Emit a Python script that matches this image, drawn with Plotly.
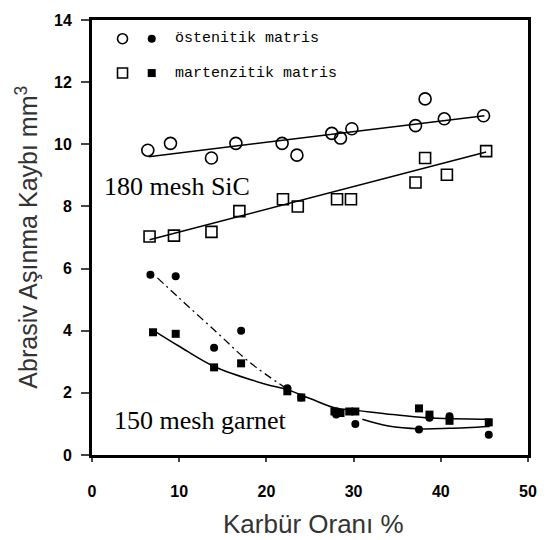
import plotly.graph_objects as go

# --- data ---
aus_sic_x = [6.4, 9.0, 13.7, 16.5, 21.8, 23.5, 27.5, 28.5, 29.8, 37.1, 38.2, 40.4, 44.9]
aus_sic_y = [9.81, 10.03, 9.56, 10.03, 10.03, 9.65, 10.35, 10.2, 10.5, 10.6, 11.46, 10.82, 10.92]

mar_sic_x = [6.6, 9.4, 13.7, 16.9, 21.9, 23.6, 28.1, 29.7, 37.1, 38.2, 40.7, 45.2]
mar_sic_y = [7.03, 7.06, 7.18, 7.85, 8.23, 8.0, 8.23, 8.23, 8.77, 9.56, 9.02, 9.78]

aus_gar_x = [6.7, 9.6, 14.0, 17.1, 22.4, 24.0, 28.0, 30.2, 37.5, 38.7, 41.0, 45.5]
aus_gar_y = [5.8, 5.75, 3.45, 4.0, 2.15, 1.85, 1.3, 1.0, 0.82, 1.2, 1.25, 0.65]

mar_gar_x = [7.0, 9.6, 14.0, 17.1, 22.4, 24.0, 27.8, 28.5, 29.5, 30.2, 37.5, 38.7, 41.0, 45.5]
mar_gar_y = [3.95, 3.9, 2.82, 2.95, 2.05, 1.85, 1.4, 1.35, 1.4, 1.4, 1.5, 1.3, 1.1, 1.05]

# trend lines
aus_sic_fit_x = [6.5, 45.0]
aus_sic_fit_y = [9.6, 10.92]
mar_sic_fit_x = [6.6, 45.2]
mar_sic_fit_y = [6.93, 9.75]

aus_gar_fit1_x = [7.5, 10.0, 14.3, 18.0, 22.4]
aus_gar_fit1_y = [5.7, 5.05, 3.95, 3.0, 2.12]
aus_gar_fit2_x = [31.0, 34.0, 37.6, 41.0, 45.6]
aus_gar_fit2_y = [1.15, 0.93, 0.84, 0.86, 0.92]

mar_gar_fit_x = [7.4, 10.0, 14.0, 19.9, 22.2, 25.0, 27.8, 30.8, 34.5, 38.3, 45.8]
mar_gar_fit_y = [3.95, 3.5, 2.85, 2.28, 2.12, 1.82, 1.52, 1.42, 1.3, 1.2, 1.15]

x_ticks = [0, 10, 20, 30, 40, 50]
y_ticks = [0, 2, 4, 6, 8, 10, 12, 14]

fig = go.Figure()

line_style = dict(color="black", width=1.5)
for fx, fy in [(aus_sic_fit_x, aus_sic_fit_y), (mar_sic_fit_x, mar_sic_fit_y),
               (aus_gar_fit2_x, aus_gar_fit2_y), (mar_gar_fit_x, mar_gar_fit_y)]:
    fig.add_trace(go.Scatter(x=fx, y=fy, mode="lines", line_shape="spline",
                             line=line_style, showlegend=False, hoverinfo="skip"))
fig.add_trace(go.Scatter(x=aus_gar_fit1_x, y=aus_gar_fit1_y, mode="lines", line_shape="spline",
                         line=dict(color="black", width=1.3, dash="8px,4px,2px,4px"),
                         showlegend=False, hoverinfo="skip"))

fig.add_trace(go.Scatter(x=aus_sic_x, y=aus_sic_y, mode="markers", showlegend=False,
                         marker=dict(symbol="circle-open", size=12, color="black", line=dict(width=1.6))))
fig.add_trace(go.Scatter(x=mar_sic_x, y=mar_sic_y, mode="markers", showlegend=False,
                         marker=dict(symbol="square-open", size=11, color="black", line=dict(width=1.6))))
fig.add_trace(go.Scatter(x=aus_gar_x, y=aus_gar_y, mode="markers", showlegend=False,
                         marker=dict(symbol="circle", size=8, color="black")))
fig.add_trace(go.Scatter(x=mar_gar_x, y=mar_gar_y, mode="markers", showlegend=False,
                         marker=dict(symbol="square", size=8, color="black")))

# legend built in paper coordinates (inside the frame, top-left)
legend_rows = [("circle-open", "circle", "östenitik matris", 0.957),
               ("square-open", "square", "martenzitik matris", 0.878)]
for s_open, s_fill, label, yy in legend_rows:
    fig.add_trace(go.Scatter(x=[0.07], y=[yy], xaxis="x2", yaxis="y2", mode="markers",
                             showlegend=False, hoverinfo="skip",
                             marker=dict(symbol=s_open, size=10, color="black", line=dict(width=1.6))))
    fig.add_trace(go.Scatter(x=[0.137], y=[yy], xaxis="x2", yaxis="y2", mode="markers",
                             showlegend=False, hoverinfo="skip",
                             marker=dict(symbol=s_fill, size=8, color="black")))
    fig.add_annotation(x=0.186, y=yy, xref="paper", yref="paper", text=label, showarrow=False,
                       xanchor="left", yanchor="middle",
                       font=dict(family="Liberation Mono", size=15, color="black"))

fig.add_annotation(x=0.022, y=0.617, xref="paper", yref="paper", text="180 mesh SiC",
                   showarrow=False, xanchor="left", yanchor="middle",
                   font=dict(family="Liberation Serif", size=26, color="black"))
fig.add_annotation(x=0.045, y=0.079, xref="paper", yref="paper", text="150 mesh garnet",
                   showarrow=False, xanchor="left", yanchor="middle",
                   font=dict(family="Liberation Serif", size=26, color="black"))

fig.add_annotation(x=-0.151, y=0.5, xref="paper", yref="paper",
                   text="Abrasiv Aşınma Kaybı mm<sup>3</sup>", showarrow=False, textangle=-90,
                   xanchor="center", yanchor="middle",
                   font=dict(family="Liberation Sans", size=25, color="#333"))
fig.add_annotation(x=0.508, y=-0.158, xref="paper", yref="paper",
                   text="Karbür Oranı %", showarrow=False,
                   xanchor="center", yanchor="middle",
                   font=dict(family="Liberation Sans", size=26, color="#333"))

tick_font = dict(family="Liberation Sans", size=16, color="black", weight="bold")
fig.update_layout(
    width=549, height=540,
    margin=dict(l=92, r=12, t=13, b=85),
    paper_bgcolor="white", plot_bgcolor="white",
    xaxis=dict(range=[0, 50], tickvals=x_ticks, ticks="outside", ticklen=4, tickwidth=1.5,
               ticklabelstandoff=16,
               showgrid=False, zeroline=False, showline=True, linecolor="black", linewidth=3,
               mirror=True, tickfont=tick_font),
    yaxis=dict(range=[0, 14], tickvals=y_ticks, ticks="outside", ticklen=8, tickwidth=2,
               ticklabelstandoff=6,
               showgrid=False, zeroline=False, showline=True, linecolor="black", linewidth=3,
               mirror=True, tickfont=tick_font),
    xaxis2=dict(range=[0, 1], overlaying="x", visible=False),
    yaxis2=dict(range=[0, 1], overlaying="y", visible=False),
)

fig.write_html("out.html")
